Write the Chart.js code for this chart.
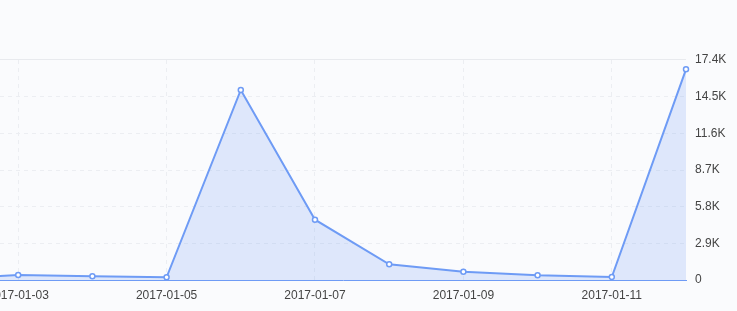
<!DOCTYPE html>
<html>
<head>
<meta charset="utf-8">
<script src="https://cdn.jsdelivr.net/npm/chart.js@4/dist/chart.umd.min.js"></script>
<style>
  html, body { margin: 0; padding: 0; background: #fafbfd; }
  #wrap { width: 737px; height: 311px; position: relative; }
</style>
</head>
<body>
<div id="wrap"><canvas id="chart"></canvas></div>
<script>
// dates and daily values
const dates = ['2017-01-02', '2017-01-03', '2017-01-04', '2017-01-05', '2017-01-06', '2017-01-07',
               '2017-01-08', '2017-01-09', '2017-01-10', '2017-01-11', '2017-01-12'];
const values = [100, 395, 290, 210, 15030, 4770, 1240, 660, 370, 240, 16660];
const labelDays = [1, 3, 5, 7, 9];   // indexes of dates that get a label
const yMax = 17400;
const yStep = 2900;

const lineColor = '#6e9bf5';

// the plot starts right at the left edge (view is panned, first day cut off)
const flushLeft = {
    id: 'flushLeft',
    afterLayout(chart) {
        const x = chart.scales.x;
        chart.chartArea.left = 0;
        chart.chartArea.width = chart.chartArea.right;
        x.left = 0;
        x.width = x.right;
        x.configure();
    }
};

// solid line along the top of the plot
const topLine = {
    id: 'topLine',
    beforeDatasetsDraw(chart) {
        const { ctx, chartArea } = chart;
        ctx.save();
        ctx.strokeStyle = '#e8eaee';
        ctx.lineWidth = 1;
        ctx.beginPath();
        ctx.moveTo(0, Math.round(chartArea.top) - 0.5);
        ctx.lineTo(chartArea.right, Math.round(chartArea.top) - 0.5);
        ctx.stroke();
        ctx.restore();
    }
};

const ctx = document.getElementById('chart').getContext('2d');
new Chart(ctx, {
    type: 'line',
    data: {
        datasets: [{
            data: values.map((v, i) => ({ x: i, y: v })),
            borderColor: lineColor,
            borderWidth: 2,
            backgroundColor: 'rgba(110, 155, 245, 0.2)',
            fill: 'origin',
            tension: 0,
            pointRadius: 2.5,
            pointBorderWidth: 1.5,
            pointBackgroundColor: '#ffffff',
            pointBorderColor: lineColor,
            clip: { left: 0, top: 5, right: 5, bottom: 0 }
        }]
    },
    options: {
        responsive: true,
        maintainAspectRatio: false,
        animation: false,
        layout: { padding: { top: 60, left: 0, right: 0, bottom: 0 } },
        plugins: { legend: { display: false }, tooltip: { enabled: false } },
        scales: {
            x: {
                type: 'linear',
                min: 0.755,
                max: dates.length - 1,
                afterBuildTicks(scale) {
                    scale.ticks = labelDays.map(v => ({ value: v }));
                },
                afterFit(scale) {
                    scale.height = 31;
                    scale.paddingLeft = 0;
                    scale.paddingRight = 0;
                },
                ticks: {
                    padding: 8,
                    color: '#444',
                    font: { family: 'Liberation Sans, Arial', size: 12 },
                    maxRotation: 0,
                    autoSkip: false,
                    callback: v => dates[v]
                },
                grid: { color: '#eceef2', drawTicks: false },
                border: { color: lineColor, width: 1, dash: [4, 4] }
            },
            y: {
                position: 'right',
                min: 0,
                max: yMax,
                afterFit(scale) { scale.width = 51; },
                ticks: {
                    stepSize: yStep,
                    padding: 9,
                    color: '#444',
                    font: { family: 'Liberation Sans, Arial', size: 12 },
                    callback: v => v === 0 ? '0' : (v / 1000).toFixed(1) + 'K'
                },
                grid: {
                    drawTicks: false,
                    color: c => (c.tick && (c.tick.value === yMax || c.tick.value === 0)) ? 'rgba(0,0,0,0)' : '#eceef2'
                },
                border: { display: false, dash: [4, 4] }
            }
        }
    },
    plugins: [flushLeft, topLine]
});
</script>
</body>
</html>
